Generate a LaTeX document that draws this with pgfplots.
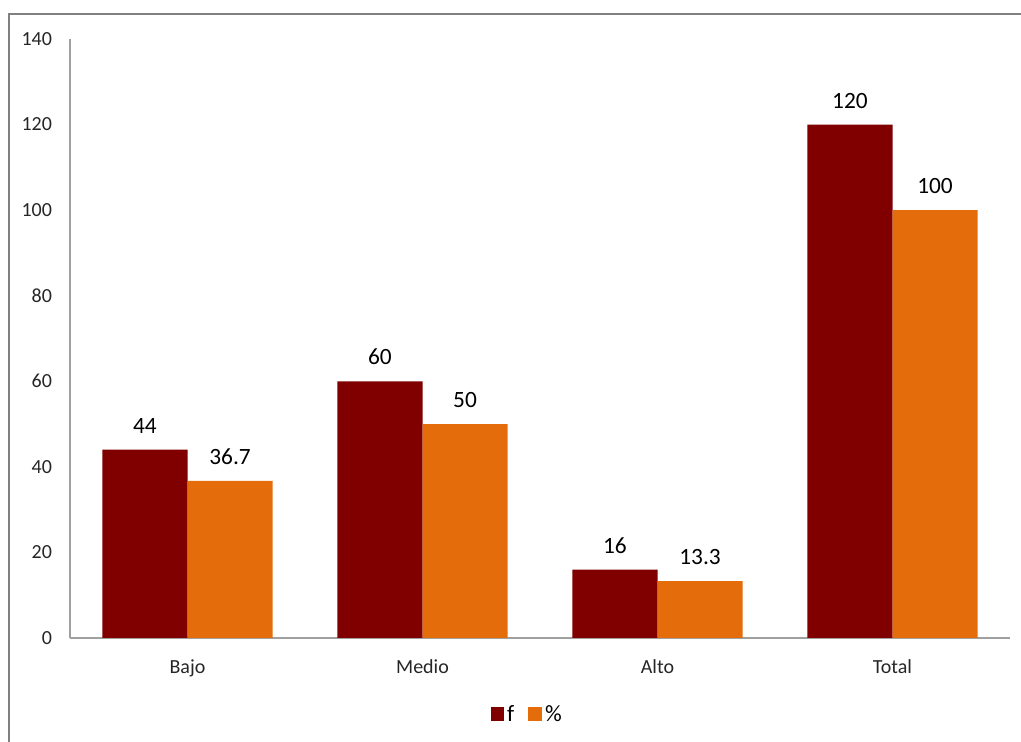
\documentclass[border=0pt]{standalone}
\usepackage{pgfplots}
\pgfplotsset{compat=1.18}
\usepackage{fontspec}
\setmainfont{Carlito}
\definecolor{cf}{HTML}{800000}
\definecolor{cp}{HTML}{E46C0A}
\definecolor{ax}{HTML}{A0A0A0}
\definecolor{fr}{HTML}{808080}
\begin{document}
\begin{tikzpicture}
\useasboundingbox (0pt,0pt) rectangle (765.75pt,556.5pt);
\draw[fr, line width=1.5pt] (7.1pt,-20pt) -- (7.1pt,546pt) -- (800pt,546pt);
\begin{axis}[
  at={(52.5pt,78pt)}, anchor=south west,
  scale only axis, width=705pt, height=449.25pt,
  ybar=0pt, bar width=0.362,
  xmin=-0.5, xmax=3.5, ymin=0, ymax=140,
  xtick=data, xticklabels={Bajo,Medio,Alto,Total},
  ytick={0,20,...,140},
  axis x line*=bottom, axis y line*=left,
  axis line style={ax, line width=0.9pt},
  x axis line style={-}, y axis line style={-},
  major tick length=0pt,
  tick label style={font=\fontsize{15}{17}\selectfont, text=black!85},
  /pgf/number format/assume math mode=true,
  yticklabel style={xshift=-10pt},
  xticklabel style={yshift=-13pt},
  nodes near coords,
  every node near coord/.append style={font=\fontsize{17.5}{20}\selectfont, text=black, anchor=south, inner sep=0pt, yshift=12pt},
  point meta=explicit symbolic,
  legend style={at={(0.487,-0.127)}, anchor=center, draw=none, legend columns=2,
    font=\fontsize{17.5}{20}\selectfont,
    nodes={inner sep=2.5pt},
    /tikz/every even column/.append style={column sep=8pt}},
  legend image code/.code={\fill[#1] (0pt,-5pt) rectangle (10pt,5pt);},
]
\addplot[fill=cf, draw=none] coordinates {(0,44) [44] (1,60) [60] (2,16) [16] (3,120) [120]};
\addplot[fill=cp, draw=none] coordinates {(0,36.7) [36.7] (1,50) [50] (2,13.3) [13.3] (3,100) [100]};
\legend{f,\%}
\end{axis}
\end{tikzpicture}
\end{document}
